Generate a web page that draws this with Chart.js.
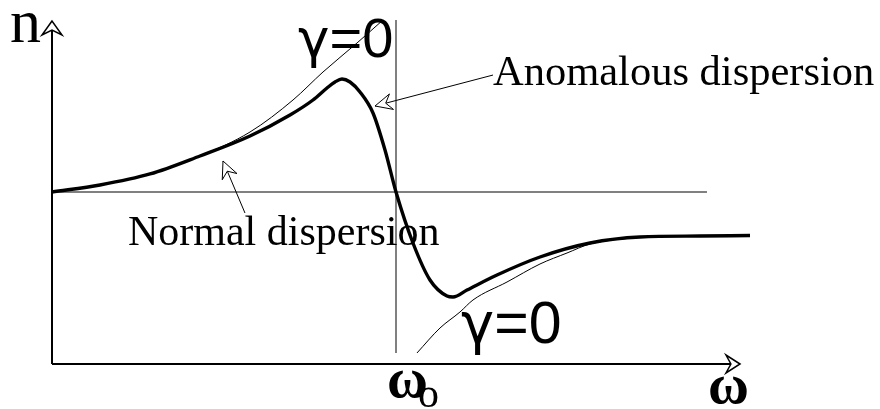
<!DOCTYPE html>
<html>
<head>
<meta charset="utf-8">
<script src="https://cdn.jsdelivr.net/npm/chart.js@4/dist/chart.umd.min.js"></script>
<style>
  html, body { margin: 0; padding: 0; background: #fff; }
  canvas { display: block; }
</style>
</head>
<body>
<canvas id="c" width="880" height="409"></canvas>
<script>
// Frequency in units of the resonance ω0, refractive index in units of its far-field value.

// Damped oscillator (γ > 0): normal rise, anomalous drop through ω0, dip and recovery.
const omegaDamped = [0, 0.1395, 0.2849, 0.4302, 0.5756, 0.6919, 0.7587, 0.7994, 0.8227, 0.8430,
                     0.8663, 0.8953, 0.9331, 0.9680, 1.0, 1.0494, 1.0988, 1.1483, 1.1657,
                     1.2064, 1.2936, 1.4186, 1.5640, 1.7093, 1.8837, 2.0291];
const nDamped     = [1.0, 1.0407, 1.1047, 1.2093, 1.3256, 1.4477, 1.5349, 1.6047, 1.6395, 1.6570,
                     1.6395, 1.5814, 1.4593, 1.2442, 1.0, 0.7035, 0.4884, 0.3953, 0.3895,
                     0.4302, 0.5174, 0.6221, 0.7035, 0.7384, 0.7440, 0.7470];

// Undamped oscillator (γ = 0), branch below resonance.
const omegaFreeLow = [0, 0.1395, 0.2849, 0.4302, 0.5756, 0.7006, 0.7878, 0.8866, 0.9622];
const nFreeLow     = [1.0, 1.0407, 1.1047, 1.2093, 1.3488, 1.5349, 1.6977, 1.8663, 2.0];

// Undamped oscillator (γ = 0), branch above resonance.
const omegaFreeHigh = [1.0610, 1.1279, 1.1860, 1.2238, 1.3227, 1.4186, 1.4971, 1.5640, 1.7093];
const nFreeHigh     = [0.0640, 0.2093, 0.3023, 0.3721, 0.4767, 0.5814, 0.6453, 0.6977, 0.7384];

// Reference lines: n = 1 and ω = ω0.
const omegaUnityLine = [0, 1.904];
const nUnityLine     = [1, 1];
const omegaResonance = [1, 1];
const nResonance     = [0.064, 2.0];

// Axis extents.
const omegaAxisEnd = 2.0;
const nAxisEnd = 1.994;

const pts = (xs, ys) => xs.map((x, i) => ({ x, y: ys[i] }));

const curveStyle = (data, width, order) => ({
  data, borderColor: '#000', borderWidth: width, pointRadius: 0,
  cubicInterpolationMode: 'monotone', fill: false, order, clip: false
});
const straight = (data, color, width, order) => ({
  data, borderColor: color, borderWidth: width, pointRadius: 0,
  tension: 0, fill: false, order, clip: false, borderCapStyle: 'butt'
});

// Arrowheads, callout arrows and labels, placed in data coordinates.
const annotations = {
  id: 'annotations',
  afterDatasetsDraw(chart) {
    const { ctx, scales: { x, y } } = chart;
    const P = (a, b) => [x.getPixelForValue(a), y.getPixelForValue(b)];

    function openHead(tip, from, len, half) {
      const dx = from[0] - tip[0], dy = from[1] - tip[1];
      const L = Math.hypot(dx, dy), ux = dx / L, uy = dy / L, px = -uy, py = ux;
      const bx = tip[0] + ux * len, by = tip[1] + uy * len;
      const nx = tip[0] + ux * len * 0.65, ny = tip[1] + uy * len * 0.65;
      ctx.beginPath();
      ctx.moveTo(tip[0], tip[1]);
      ctx.lineTo(bx + px * half, by + py * half);
      ctx.lineTo(nx, ny);
      ctx.lineTo(bx - px * half, by - py * half);
      ctx.closePath();
      ctx.fillStyle = '#fff';
      ctx.fill();
      ctx.stroke();
    }
    function callout(tail, tip) {
      ctx.save();
      ctx.strokeStyle = '#000';
      ctx.lineWidth = 1;
      ctx.beginPath();
      ctx.moveTo(tail[0], tail[1]);
      ctx.lineTo(tip[0], tip[1]);
      ctx.stroke();
      openHead(tip, tail, 17, 8);
      ctx.restore();
    }
    function label(text, at, font, align) {
      ctx.save();
      ctx.font = font;
      ctx.fillStyle = '#000';
      ctx.textAlign = align || 'left';
      ctx.textBaseline = 'alphabetic';
      ctx.fillText(text, at[0], at[1]);
      const w = ctx.measureText(text).width;
      ctx.restore();
      return w;
    }
    // "γ=0": a wide sans gamma, then the rest in a plain sans
    function gammaZero(at, size) {
      const w = label('γ', at, (size * 0.95) + 'px "DejaVu Sans", sans-serif');
      label('=0', [at[0] + w, at[1]], size + 'px "Liberation Sans", Arial, sans-serif');
    }

    // axis arrowheads
    ctx.save();
    ctx.strokeStyle = '#000';
    ctx.lineWidth = 1.5;
    const yTip = P(0, nAxisEnd), xTip = P(omegaAxisEnd, 0);
    openHead(yTip, P(0, 0), 14, 10);
    openHead(xTip, P(0, 0), 14, 9);
    ctx.restore();

    // callouts
    callout(P(1.282, 1.680), P(0.9390, 1.500));
    callout(P(0.5610, 0.8779), P(0.4971, 1.1802));

    // labels
    const serif = '"Liberation Serif", "Times New Roman", serif';
    label('n', P(-0.122, 1.872), '62px ' + serif);
    gammaZero(P(0.7151, 1.785), 56);
    gammaZero(P(1.189, 0.122), 59);
    label('Anomalous dispersion', P(1.282, 1.622), '42.5px ' + serif);
    label('Normal dispersion', P(0.2209, 0.6919), '42px ' + serif);
    label('ω', P(0.9738, -0.1919), 'bold 56px ' + serif);
    label('o', P(1.0640, -0.2500), '42px ' + serif);
    label('ω', P(1.907, -0.2267), 'bold 56px ' + serif);
  }
};

new Chart(document.getElementById('c'), {
  type: 'line',
  data: {
    datasets: [
      curveStyle(pts(omegaDamped, nDamped), 3.4, 0),
      curveStyle(pts(omegaFreeLow, nFreeLow), 1, 1),
      curveStyle(pts(omegaFreeHigh, nFreeHigh), 1, 1),
      straight(pts(omegaUnityLine, nUnityLine), '#808080', 2, 3),
      straight(pts(omegaResonance, nResonance), '#808080', 2, 3),
      straight(pts([0, 0], [0, nAxisEnd - 0.02]), '#000', 2, 2),
      straight(pts([0, omegaAxisEnd - 0.02], [0, 0]), '#000', 2, 2)
    ]
  },
  options: {
    responsive: false,
    animation: false,
    devicePixelRatio: 1,
    layout: { padding: { left: 52, right: 105.6, top: 2.8, bottom: 45 } },
    plugins: { legend: { display: false }, tooltip: { enabled: false }, title: { display: false } },
    events: [],
    scales: {
      x: { type: 'linear', min: 0, max: 2.1, display: false },
      y: { type: 'linear', min: 0, max: 2.1, display: false }
    }
  },
  plugins: [annotations]
});
</script>
</body>
</html>
